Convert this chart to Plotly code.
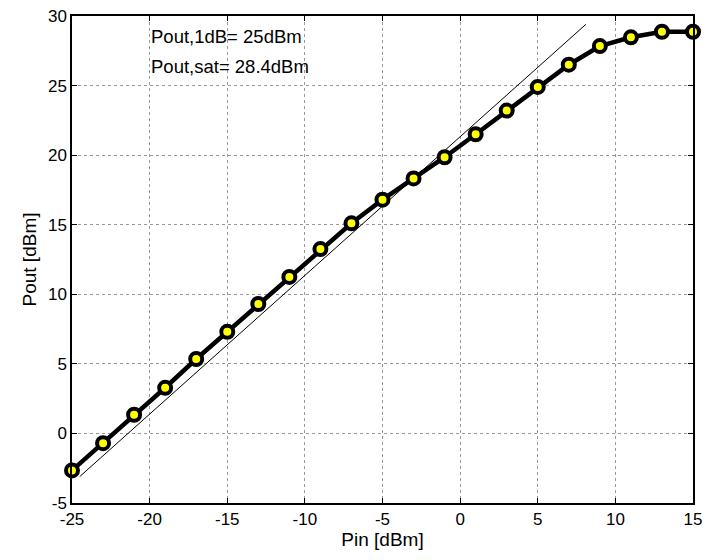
import plotly.graph_objects as go

# measured power transfer curve
pin = [-25, -23, -21, -19, -17, -15, -13, -11, -9, -7, -5, -3, -1, 1, 3, 5, 7, 9, 11, 13, 15]
pout = [-2.66, -0.7, 1.34, 3.28, 5.35, 7.3, 9.3, 11.25, 13.25, 15.1, 16.8, 18.33, 19.85,
        21.5, 23.2, 24.9, 26.5, 27.84, 28.47, 28.87, 28.87]

# linear (small-signal) reference
lin_x = [-24.5, 8.1]
lin_y = [-3.1, 29.4]

x_ticks = [-25, -20, -15, -10, -5, 0, 5, 10, 15]
y_ticks = [-5, 0, 5, 10, 15, 20, 25, 30]

notes = ["Pout,1dB= 25dBm", "Pout,sat= 28.4dBm"]

fig = go.Figure()
fig.add_trace(go.Scatter(x=lin_x, y=lin_y, mode="lines", showlegend=False,
                         line={"color": "black", "width": 1}))
fig.add_trace(go.Scatter(
    x=pin, y=pout, mode="lines+markers", showlegend=False, cliponaxis=False,
    line={"color": "black", "width": 4.5},
    marker={"size": 12, "color": "#ffff00", "line": {"color": "black", "width": 4}},
))

axis_common = dict(
    showline=True, linecolor="black", linewidth=1.5, mirror="ticks",
    ticks="inside", ticklen=5, tickcolor="black",
    showgrid=True, gridcolor="#999999", griddash="dot", gridwidth=1,
    zeroline=False, tickfont={"size": 17, "color": "black"}, automargin=False,
    ticklabeloverflow="allow",
)

fig.update_layout(
    width=713, height=560,
    paper_bgcolor="white", plot_bgcolor="white",
    font={"family": "Liberation Sans, Arial, sans-serif", "color": "black"},
    margin={"l": 72, "r": 20, "t": 16, "b": 57},
    xaxis=dict(axis_common, range=[-25, 15], tickvals=x_ticks,
               ticktext=[str(v) for v in x_ticks],
               title={"text": "Pin [dBm]", "font": {"size": 19}, "standoff": 2}),
    yaxis=dict(axis_common, range=[-5, 30], tickvals=y_ticks,
               ticktext=[str(v) for v in y_ticks],
               title={"text": "Pout [dBm]", "font": {"size": 19}, "standoff": 6}),
)
for i, txt in enumerate(notes):
    fig.add_annotation(x=-20.05, y=28.5 - i * 2.15, xref="x", yref="y", text=txt,
                       showarrow=False, xanchor="left", yanchor="middle",
                       font={"size": 18.5, "color": "black"})

# drop the default body margin so the figure sits at the page origin
fig.write_html("out.html", config={"displayModeBar": False},
               post_script="document.body.style.margin='0';document.body.style.overflow='hidden';")
